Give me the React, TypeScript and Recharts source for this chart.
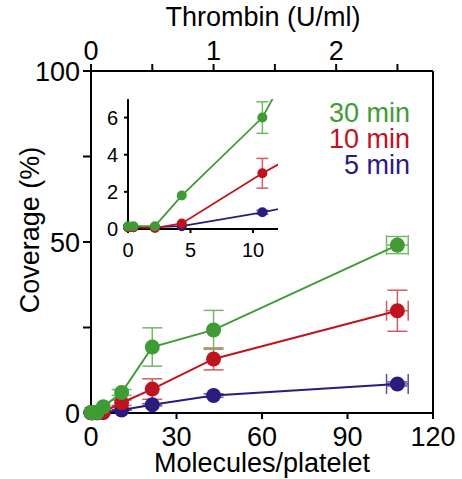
import {
  ComposedChart,
  ErrorBar,
  ReferenceLine,
  Scatter,
  XAxis,
  YAxis,
} from "recharts";

// thrombin doses (U/ml) and the matching molecules per platelet
const thrombin = [0, 0.01, 0.05, 0.1, 0.25, 0.5, 1, 2.5];
const molecules = [0, 0.43, 2.15, 4.3, 10.75, 21.5, 43, 107.5];
const moleculesErr = [0, 0, 0, 0, 0, 0, 0, 3.8];

// coverage (%) and sd
const cov30 = [0.15, 0.15, 0.15, 1.8, 6.0, 19.3, 24.3, 49.1];
const err30 = [0, 0, 0, 0, 0.85, 5.6, 5.7, 2.5];
const cov10 = [0.1, 0.1, 0.05, 0.3, 3.0, 7.0, 15.8, 29.9];
const err10 = [0, 0, 0, 0, 0.8, 3.0, 3.2, 6.0];
const cov5 = [0.1, 0.1, 0.1, 0.15, 0.9, 2.4, 5.1, 8.5];
const err5 = [0, 0, 0, 0, 0.1, 0.3, 0.5, 0.6];

const mainXTicks = [0, 30, 60, 90, 120];
const mainYTicks = [0, 25, 50, 75, 100];
const thrombinTicks = [0, 0.5, 1, 1.5, 2, 2.5];
const thrombinMax = 2.79;
const insetXTicks = [0, 5, 10];
const insetYTicks = [0, 2, 4, 6];
const insetXMax = 12;
const insetYMax = 7;

const series = [
  { name: "5 min", values: cov5, errs: err5, color: "#2b1b7e", errColor: "#5a4fa6" },
  { name: "10 min", values: cov10, errs: err10, color: "#c1121f", errColor: "#d65a60" },
  { name: "30 min", values: cov30, errs: err30, color: "#3f9c35", errColor: "#72b868" },
];

const rowsFor = (values: number[], errs: number[]) =>
  molecules.map((x, i) => ({
    x,
    t: thrombin[i],
    y: values[i],
    ey: errs[i],
    ex: moleculesErr[i],
  }));

const FONT = "'Liberation Sans', Arial, sans-serif";
const axisStroke = { stroke: "#000", strokeWidth: 2 };

const dot = (r: number, color: string) => (p: any) =>
  <circle cx={p.cx} cy={p.cy} r={r} fill={color} />;

const MainChart = () => (
  <ComposedChart
    width={462}
    height={479}
    margin={{ top: 0, right: 29, bottom: 6, left: 0 }}
  >
    <XAxis
      xAxisId="mol"
      type="number"
      dataKey="x"
      domain={[0, 120]}
      ticks={mainXTicks}
      height={60}
      tickSize={6}
      tickMargin={8}
      axisLine={axisStroke}
      tickLine={axisStroke}
      tick={{ fill: "#000", fontSize: 27 }}
    />
    <XAxis
      xAxisId="thr"
      type="number"
      dataKey="t"
      orientation="top"
      domain={[0, thrombinMax]}
      ticks={thrombinTicks}
      tickFormatter={(v: number) => (Number.isInteger(v) ? String(v) : "")}
      height={71}
      tickSize={7}
      tickMargin={4}
      axisLine={axisStroke}
      tickLine={axisStroke}
      tick={{ fill: "#000", fontSize: 27 }}
    />
    <YAxis
      yAxisId="cov"
      type="number"
      dataKey="y"
      domain={[0, 100]}
      ticks={mainYTicks}
      tickFormatter={(v: number) => (v % 50 === 0 ? String(v) : "")}
      width={91}
      tickSize={8}
      tickMargin={3}
      axisLine={axisStroke}
      tickLine={axisStroke}
      tick={{ fill: "#000", fontSize: 27 }}
    />
    <ReferenceLine
      xAxisId="mol"
      yAxisId="cov"
      x={120}
      stroke="#000"
      strokeWidth={2}
    />
    <Scatter
      xAxisId="thr"
      yAxisId="cov"
      data={rowsFor(cov30, err30)}
      shape={() => <g />}
      isAnimationActive={false}
    />
    {series.map((s) => (
      <Scatter
        key={s.name}
        xAxisId="mol"
        yAxisId="cov"
        data={rowsFor(s.values, s.errs)}
        line={{ stroke: s.color, strokeWidth: 2 }}
        lineType="joint"
        shape={dot(7.5, s.color)}
        isAnimationActive={false}
      >
        <ErrorBar dataKey="ey" direction="y" width={10} stroke={s.errColor} strokeWidth={1.5} />
        <ErrorBar dataKey="ex" direction="x" width={10} stroke={s.errColor} strokeWidth={1.5} />
      </Scatter>
    ))}
  </ComposedChart>
);

const InsetChart = () => (
  <ComposedChart
    width={210}
    height={170}
    margin={{ top: 9, right: 12, bottom: 0, left: 18 }}
  >
    <XAxis xAxisId="cx" type="number" dataKey="x" domain={[0, insetXMax]} allowDataOverflow hide height={0} />
    <YAxis yAxisId="cy" type="number" dataKey="y" domain={[0, insetYMax]} allowDataOverflow hide width={0} />
    <XAxis
      xAxisId="vx"
      type="number"
      dataKey="x"
      domain={[0, insetXMax]}
      ticks={insetXTicks}
      height={31}
      tickSize={4}
      tickMargin={10}
      axisLine={axisStroke}
      tickLine={axisStroke}
      tick={{ fill: "#000", fontSize: 20 }}
    />
    <YAxis
      yAxisId="vy"
      type="number"
      dataKey="y"
      domain={[0, insetYMax]}
      ticks={insetYTicks}
      width={30}
      tickSize={4}
      tickMargin={6}
      axisLine={axisStroke}
      tickLine={axisStroke}
      tick={{ fill: "#000", fontSize: 20 }}
    />
    {series.map((s) => (
      <Scatter
        key={s.name + "-line"}
        xAxisId="cx"
        yAxisId="cy"
        data={rowsFor(s.values, s.errs)}
        line={{ stroke: s.color, strokeWidth: 1.8 }}
        lineType="joint"
        shape={() => <g />}
        isAnimationActive={false}
      />
    ))}
    {series.map((s) => (
      <Scatter
        key={s.name + "-dots"}
        xAxisId="vx"
        yAxisId="vy"
        data={rowsFor(s.values, s.errs).filter((r) => r.x <= insetXMax && r.y <= insetYMax)}
        shape={dot(5, s.color)}
        isAnimationActive={false}
      >
        <ErrorBar dataKey="ey" direction="y" width={6} stroke={s.errColor} strokeWidth={1.5} />
      </Scatter>
    ))}
  </ComposedChart>
);

const text = (style: React.CSSProperties) => ({
  position: "absolute" as const,
  whiteSpace: "nowrap" as const,
  fontSize: 27,
  lineHeight: "30px",
  color: "#000",
  ...style,
});

export default function App() {
  return (
    <div
      style={{
        position: "absolute",
        left: 0,
        top: 0,
        width: 462,
        height: 479,
        background: "#fff",
        fontFamily: FONT,
      }}
    >
      <MainChart />
      <div style={{ position: "absolute", left: 80, top: 90 }}>
        <InsetChart />
      </div>
      <div style={text({ left: 263, top: 2, transform: "translateX(-50%)" })}>
        Thrombin (U/ml)
      </div>
      <div style={text({ left: 262, top: 448, transform: "translateX(-50%)" })}>
        Molecules/platelet
      </div>
      <div
        style={text({
          left: 30,
          top: 230,
          transform: "translate(-50%, -50%) rotate(-90deg)",
        })}
      >
        Coverage (%)
      </div>
      <div
        style={{
          position: "absolute",
          right: 462 - 410,
          top: 100,
          textAlign: "right",
          fontSize: 27,
          lineHeight: "26px",
        }}
      >
        {[...series].reverse().map((s) => (
          <div key={s.name} style={{ color: s.color }}>
            {s.name}
          </div>
        ))}
      </div>
    </div>
  );
}
